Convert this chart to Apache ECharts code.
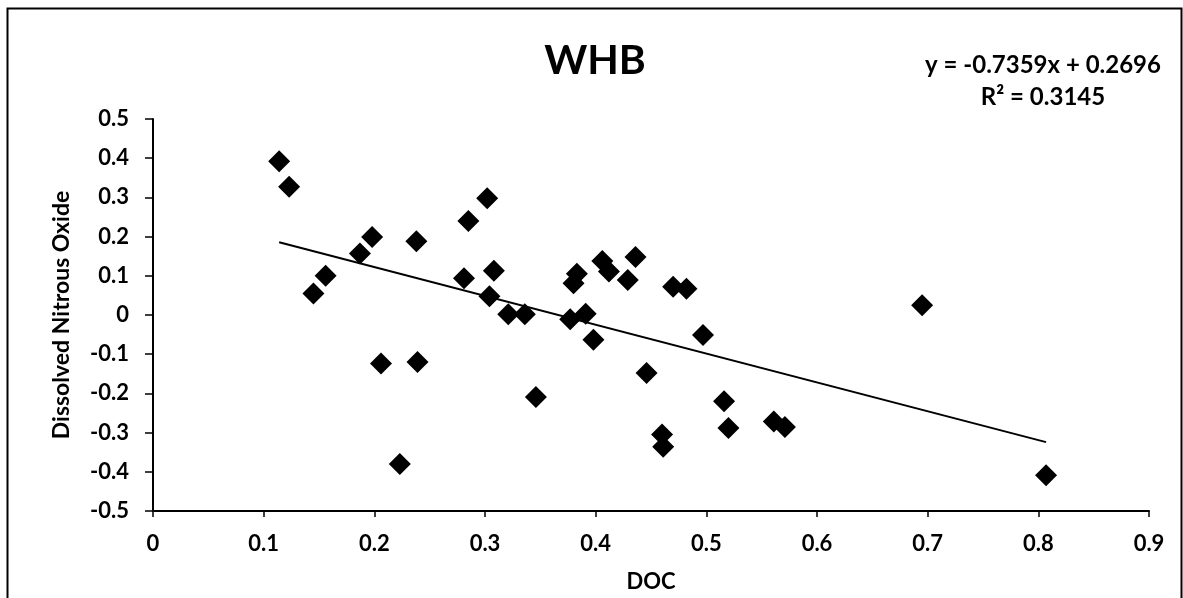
<!DOCTYPE html>
<html>
<head>
<meta charset="utf-8">
<script src="https://cdn.jsdelivr.net/npm/echarts@6/dist/echarts.min.js"></script>
<style>
  html, body { margin: 0; padding: 0; background: #fff; }
  #chart { width: 1183px; height: 598px; }
</style>
</head>
<body>
<div id="chart"></div>
<script>
// ---- Data ----
const docValues = [0.114, 0.123, 0.145, 0.156, 0.187, 0.198, 0.206, 0.223, 0.238, 0.239,
                   0.281, 0.285, 0.302, 0.304, 0.308, 0.321, 0.336, 0.346, 0.377, 0.380,
                   0.383, 0.391, 0.398, 0.406, 0.412, 0.429, 0.436, 0.446, 0.460, 0.461,
                   0.470, 0.482, 0.497, 0.516, 0.520, 0.561, 0.571, 0.695, 0.807];
const n2oValues = [0.392, 0.327, 0.055, 0.100, 0.157, 0.199, -0.124, -0.380, 0.188, -0.120,
                   0.094, 0.240, 0.298, 0.048, 0.113, 0.002, 0.002, -0.209, -0.011, 0.081,
                   0.105, 0.003, -0.063, 0.138, 0.111, 0.089, 0.148, -0.148, -0.305, -0.336,
                   0.072, 0.067, -0.051, -0.220, -0.288, -0.272, -0.286, 0.025, -0.409];
const slope = -0.7359;
const intercept = 0.2696;
const titleText = 'WHB';
const equationText = 'y = -0.7359x + 0.2696';
const r2Text = 'R² = 0.3145';
const xAxisName = 'DOC';
const yAxisName = 'Dissolved Nitrous Oxide';

const points = docValues.map((x, i) => [x, n2oValues[i]]);
const xMin = Math.min(...docValues), xMax = Math.max(...docValues);
const trend = [[xMin, slope * xMin + intercept], [xMax, slope * xMax + intercept]];

const FONT = 'Lato, "Open Sans", sans-serif';
const chart = echarts.init(document.getElementById('chart'), null, { renderer: 'canvas' });
chart.setOption({
  animation: false,
  backgroundColor: '#fff',
  title: [
    { text: titleText, left: 590, top: 35, textAlign: 'center',
      textStyle: { fontFamily: FONT, fontWeight: 'bold', fontSize: 41, color: '#000' } },
    { text: equationText + '\n' + r2Text, left: 1038, top: 44, textAlign: 'center',
      textStyle: { fontFamily: FONT, fontWeight: 'bold', fontSize: 24, lineHeight: 32, color: '#000' } }
  ],
  graphic: [{
    type: 'rect', left: 5, top: 6, z: 100,
    shape: { width: 1174, height: 600 },
    style: { fill: 'none', stroke: '#000', lineWidth: 2 }
  }],
  grid: { left: 153, right: 34, top: 119, bottom: 87, containLabel: false },
  xAxis: {
    type: 'value', min: 0, max: 0.9, interval: 0.1,
    name: xAxisName, nameLocation: 'middle', nameGap: 60,
    nameTextStyle: { fontFamily: FONT, fontWeight: 'bold', fontSize: 22, color: '#000' },
    axisLine: { show: true, onZero: false, lineStyle: { color: '#000', width: 2 } },
    axisTick: { show: true, inside: false, length: 6, lineStyle: { color: '#000', width: 1.5 } },
    axisLabel: { fontFamily: FONT, fontWeight: 'bold', fontSize: 22, color: '#000', margin: 22,
                 formatter: v => String(Math.round(v * 10) / 10) },
    splitLine: { show: false }
  },
  yAxis: {
    type: 'value', min: -0.5, max: 0.5, interval: 0.1,
    name: yAxisName, nameLocation: 'middle', nameGap: 80, nameRotate: 90,
    nameTextStyle: { fontFamily: FONT, fontWeight: 'bold', fontSize: 23, color: '#000' },
    axisLine: { show: true, onZero: false, lineStyle: { color: '#000', width: 2 } },
    axisTick: { show: true, inside: false, length: 8, lineStyle: { color: '#000', width: 1.5 } },
    axisLabel: { fontFamily: FONT, fontWeight: 'bold', fontSize: 22, color: '#000', margin: 24,
                 formatter: v => String(Math.round(v * 10) / 10) },
    splitLine: { show: false }
  },
  series: [
    { type: 'line', data: trend, symbol: 'none', silent: true, z: 1,
      lineStyle: { color: '#000', width: 2 } },
    { type: 'scatter', data: points, symbol: 'diamond', symbolSize: [22, 22], z: 2,
      itemStyle: { color: '#000', opacity: 1 } }
  ]
});
</script>
</body>
</html>
